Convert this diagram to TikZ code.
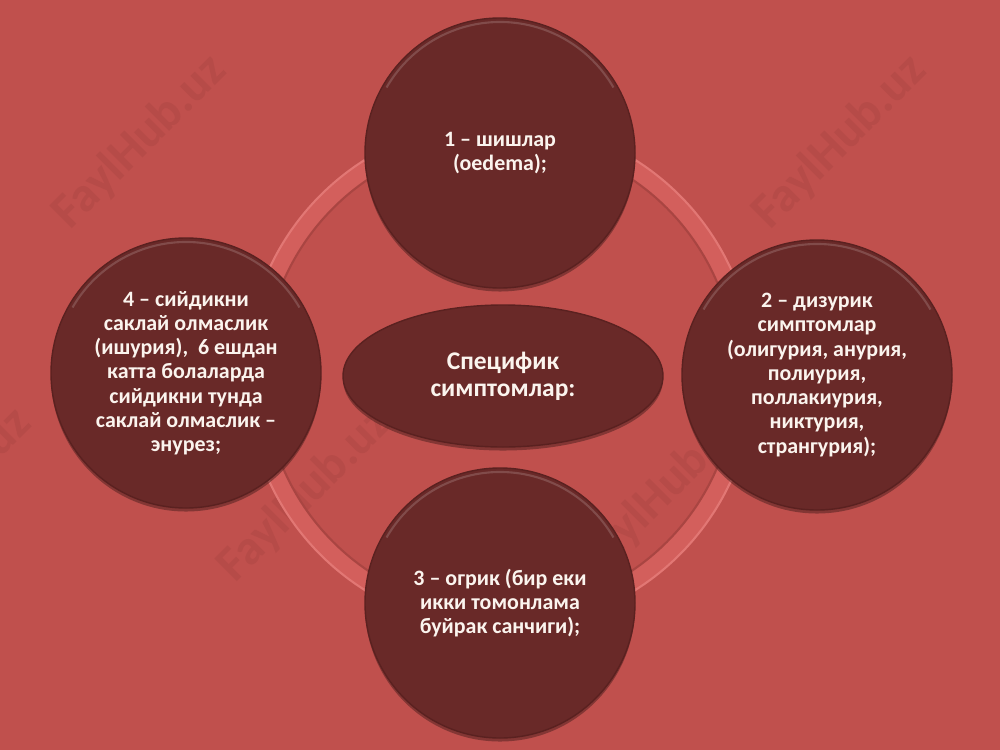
\documentclass[tikz,border=0pt]{standalone}
\usepackage{fontspec}
\setmainfont{Carlito}
\usetikzlibrary{shapes.geometric,shadows}
\definecolor{bg}{HTML}{C0504D}
\definecolor{disc}{HTML}{692928}
\definecolor{discrim}{HTML}{5A2120}
\definecolor{ringc}{HTML}{D35F5C}
\definecolor{ringhi}{HTML}{E27774}
\definecolor{ringlo}{HTML}{A94542}
\definecolor{wmark}{HTML}{B64B48}
\definecolor{txt}{HTML}{FBF4EE}
\tikzset{
  disk/.style={circle, minimum size=270*0.02cm, inner sep=0pt, fill=disc, draw=discrim, line width=0.8pt,
    drop shadow={opacity=0.45, shadow xshift=0pt, shadow yshift=-2pt, fill=black!70!bg}},
  centreoval/.style={ellipse, minimum width=320*0.02cm, minimum height=142*0.02cm, inner sep=0pt, fill=disc, draw=discrim, line width=0.8pt,
    drop shadow={opacity=0.45, shadow xshift=0pt, shadow yshift=-2pt, fill=black!70!bg}},
  label/.style={text=txt, align=center, font=\bfseries\fontsize{12.5}{13.8}\selectfont},
  biglabel/.style={text=txt, align=center, font=\bfseries\fontsize{14.5}{15.2}\selectfont},
  wm/.style={text=wmark, rotate=45, font=\bfseries\fontsize{28}{30}\selectfont}
}
\begin{document}
\begin{tikzpicture}[x=0.02cm,y=-0.02cm]
\fill[bg] (0,0) rectangle (1000,750);
\useasboundingbox (0,0) rectangle (1000,750);
% watermarks
\node[wm] (w1) at (140,142) {FaylHub.uz};
\node[wm] (w2) at (840,142) {FaylHub.uz};
\node[wm] (w3) at (-55,495) {FaylHub.uz};
\node[wm] (w4) at (305,495) {FaylHub.uz};
\node[wm] (w5) at (665,490) {FaylHub.uz};
% ring
\coordinate (rc) at (500,375);
\draw[ringc, line width=18*0.02cm] (rc) circle (245);
\draw[ringhi, line width=1.2pt] (rc) circle (254);
\draw[ringlo, line width=1.2pt] (rc) circle (236);
% disks
\node[disk] (top) at (500,153) {};
\node[disk] (right) at (817,375) {};
\node[disk] (bottom) at (500,603) {};
\node[disk] (left) at (186,373) {};
\node[centreoval] (mid) at (503,376) {};
% rim highlights
\foreach \n in {top,right,bottom,left}{
  \draw[white, opacity=0.16, line width=1.2pt] ([shift={(-150:131)}]\n.center) arc (-150:-30:131);
}
% labels
\node[label] (ttop) at (top) {1 – шишлар\\(oedema);};
\node[label] (tright) at (right) {2 – дизурик\\симптомлар\\(олигурия, анурия,\\полиурия,\\поллакиурия,\\никтурия,\\странгурия);};
\node[label] (tbottom) at (bottom) {3 – огрик (бир еки\\икки томонлама\\буйрак санчиги);};
\node[label] (tleft) at (left) {4 – сийдикни\\саклай олмаслик\\(ишурия),\ \ 6 ешдан\\катта болаларда\\сийдикни тунда\\саклай олмаслик –\\энурез;};
\node[biglabel] (tmid) at (mid) {Специфик\\симптомлар:};
\end{tikzpicture}
\end{document}
